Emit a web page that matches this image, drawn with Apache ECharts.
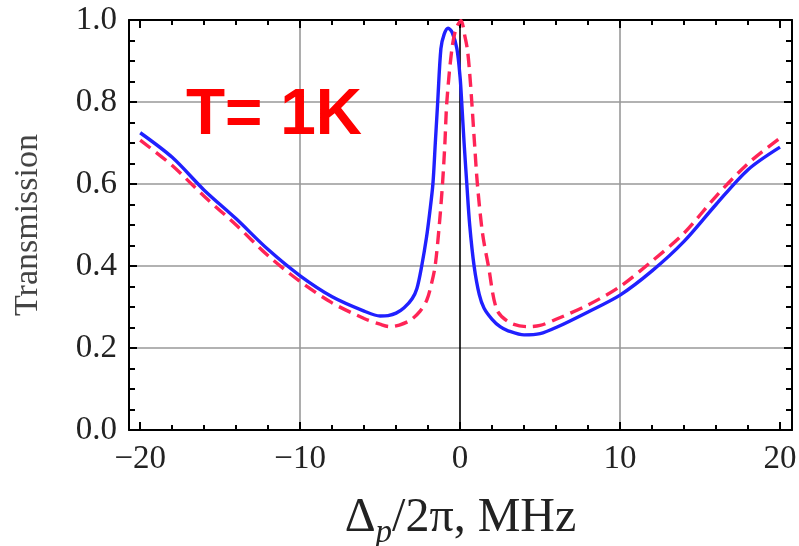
<!DOCTYPE html>
<html>
<head>
<meta charset="utf-8">
<script src="https://cdn.jsdelivr.net/npm/echarts@6/dist/echarts.min.js"></script>
<style>html,body{margin:0;padding:0;background:#fff}#c{width:799px;height:546px}</style>
</head>
<body>
<div id="c"></div>
<script>
// ---- data ----
var blueX = [-20,-18,-16,-14,-12,-10,-8,-6,-5,-4.5,-4,-3.5,-3,-2.7,-2.4,-2.1,-1.9,-1.7,-1.55,-1.4,-1.2,-1.0,-0.75,-0.5,-0.2,0.0,0.1,0.25,0.42,0.6,0.875,1.2,1.5,2,2.5,3,4,5,6,8,10,12,14,16,18,20];
var blueY = [0.725,0.665,0.585,0.515,0.44,0.376,0.325,0.29,0.278,0.279,0.285,0.298,0.32,0.345,0.40,0.47,0.53,0.60,0.70,0.80,0.93,0.965,0.98,0.97,0.93,0.86,0.80,0.70,0.60,0.50,0.40,0.33,0.297,0.27,0.252,0.242,0.232,0.235,0.25,0.288,0.329,0.388,0.46,0.55,0.635,0.69];
var redX = [-20,-18,-16,-14,-12,-10,-8,-6,-5,-4.4,-3.8,-3.1,-2.5,-2.08,-1.8,-1.56,-1.3,-1.1,-0.95,-0.83,-0.52,-0.25,0.06,0.3,0.46,0.6,0.73,0.9,1.08,1.4,1.77,2.3,3.1,4.2,5,6,8,10,12,14,16,18,20];
var redY = [0.707,0.645,0.57,0.50,0.425,0.362,0.31,0.272,0.258,0.252,0.256,0.268,0.29,0.317,0.355,0.40,0.50,0.60,0.70,0.80,0.927,0.98,0.998,0.96,0.927,0.87,0.80,0.70,0.60,0.48,0.40,0.293,0.262,0.252,0.255,0.27,0.305,0.35,0.412,0.48,0.57,0.65,0.712];
var xMajorTicks = [-20,-10,0,10,20];
var xMinorTicks = [-18,-16,-14,-12,-8,-6,-4,-2,2,4,6,8,12,14,16,18];
var xGridLines = [-10,0,10];
var annotation = 'T= 1K';
var yName = 'Transmission';

function pairs(xs, ys){ return xs.map(function(x,i){ return [x, ys[i]]; }); }
var X_MIN = -20.7, X_MAX = 20.75;
var serif = 'Liberation Serif';

function xAx(pos, ticks, len, labels, line){
  var a = {
    type:'value', position:pos, min:X_MIN, max:X_MAX,
    axisLine:{show:line, onZero:false, lineStyle:{color:'#000', width:2}},
    axisTick:{show:true, inside:true, length:len, customValues:ticks, lineStyle:{color:'#000', width:2}},
    axisLabel:{show:labels, customValues:ticks},
    splitLine:{show:false}
  };
  if (labels) {
    a.axisLabel.margin = 13; a.axisLabel.color = '#222'; a.axisLabel.fontFamily = serif; a.axisLabel.fontSize = 33;
    a.axisLabel.formatter = function(v){ return v<0 ? '\u2212'+Math.abs(v) : String(v); };
  }
  return a;
}

var chart = echarts.init(document.getElementById('c'));
var gridAxis = xAx('bottom', xGridLines, 8, false, false);
gridAxis.splitLine = {show:true, lineStyle:{color:['#999','#000','#999'], width:1.6}};
var xAxes = [xAx('bottom', xMajorTicks, 8, true, true), xAx('bottom', xMinorTicks, 5, false, false),
             xAx('top', xMajorTicks, 8, false, true), xAx('top', xMinorTicks, 5, false, false), gridAxis];
xAxes[0].name = '{d|\u0394}{p|p}{d|/2\u03c0, MHz}';
xAxes[0].nameLocation = 'middle';
xAxes[0].nameGap = 57;
xAxes[0].nameTextStyle = {color:'#222', fontFamily:serif, fontSize:48,
  rich:{ d:{fontFamily:serif, fontSize:48, color:'#222'},
         p:{fontFamily:serif, fontSize:33, fontStyle:'italic', color:'#222', padding:[30,0,0,0]} }};

function yAx(pos, labels, split){
  var a = {type:'value', position:pos, min:0, max:1, interval:0.2,
    axisLine:{show:true, onZero:false, lineStyle:{color:'#000', width:2}},
    axisTick:{show:true, inside:true, length:8, lineStyle:{color:'#000', width:2}},
    minorTick:{show:true, splitNumber:4, length:6, lineStyle:{color:'#000', width:2}},
    axisLabel:{show:labels},
    splitLine:{show:split, lineStyle:{color:'#999', width:1.6}}};
  if (labels) {
    a.axisLabel.margin = 12; a.axisLabel.color = '#222'; a.axisLabel.fontFamily = serif; a.axisLabel.fontSize = 33;
    a.axisLabel.formatter = function(v){ return v.toFixed(1); };
  }
  return a;
}
var yAxes = [yAx('left', true, true), yAx('right', false, false)];
yAxes[0].name = yName;
yAxes[0].nameLocation = 'middle';
yAxes[0].nameGap = 84;
yAxes[0].nameTextStyle = {color:'#444', fontFamily:serif, fontSize:34};

chart.setOption({
  animation:false,
  grid:{left:129, right:7, top:20, bottom:116, containLabel:false, outerBoundsMode:'none'},
  graphic:[{type:'text', left:186, top:84, z:10, silent:true,
    style:{text:annotation, fill:'#ff0000', font:'bold 64px "Liberation Sans"'}}],
  xAxis:xAxes,
  yAxis:yAxes,
  series:[
    {type:'line', name:'blue', data:pairs(blueX, blueY), showSymbol:false, smooth:0.3,
      lineStyle:{color:'#2020ff', width:3.4}},
    {type:'line', name:'red', data:pairs(redX, redY), showSymbol:false, smooth:0.3,
      lineStyle:{color:'#ff2456', width:3.4, type:[13,7]}}
  ]
});
</script>
</body>
</html>
